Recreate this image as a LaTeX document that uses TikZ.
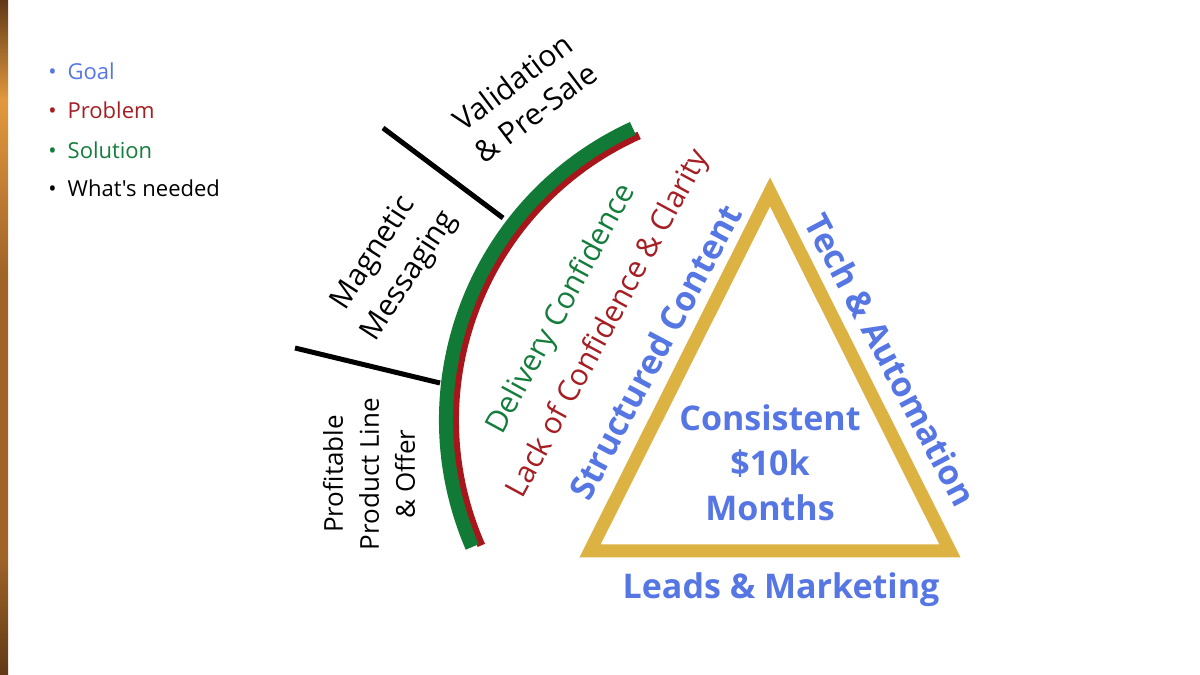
\documentclass[tikz,border=0pt]{standalone}
\usepackage{fontspec}
\setmainfont[Ligatures=TeXOff]{Open Sans}
\usepackage{tikz}
\usetikzlibrary{positioning}
\definecolor{colorgoal}      {RGB}{86 ,118,228}
\definecolor{colorproblem}   {RGB}{165,30 ,35 }
\definecolor{colorsolution}  {RGB}{20 ,125,60 }
\definecolor{colorneed}      {RGB}{0  ,0  ,0  }
\definecolor{colorarcgreen}  {RGB}{16 ,122,54 }
\definecolor{colorarcred}    {RGB}{168,22 ,28 }
\definecolor{colorgold}      {RGB}{196,152,42 }
\definecolor{colorgoldlight} {RGB}{220,178,66 }
\definecolor{colorstripdark} {RGB}{96 ,58 ,22 }
\definecolor{colorstripmid}  {RGB}{160,100,40 }
\definecolor{colorstriplight}{RGB}{226,152,62 }

\begin{document}
\begin{tikzpicture}[
    x=0.5pt, y=0.5pt,
    legend/.style={anchor=base west,inner sep=0pt,font={\fontsize{11}{13}\selectfont}},
    need/.style={text=colorneed,align=center,font={\fontsize{15}{19}\selectfont}},
    tag/.style={font={\fontsize{15}{18}\selectfont}},
    goal/.style={text=colorgoal,align=center,font={\fontsize{17}{22.5}\selectfont\bfseries}},
    tick/.style={line width=2.5pt},
]

    \useasboundingbox (0,0) rectangle (1200,675);
    \fill[white] (0,0) rectangle (1200,675);

    \shade[top color=colorstripdark,bottom color=colorstriplight] (0,675) rectangle (8,575);
    \shade[top color=colorstriplight,bottom color=colorstripmid] (0,575) rectangle (8,400);
    \shade[top color=colorstripmid,middle color=colorstriplight,bottom color=colorstripmid] (0,400) rectangle (8,120);
    \shade[top color=colorstripmid,bottom color=colorstripdark] (0,120) rectangle (8,0);

    \node[legend,text=colorgoal]     (lgoal)    at (48,595) {\textbullet\hspace{5.5pt}Goal};
    \node[legend,text=colorproblem]  (lproblem) at (48,556) {\textbullet\hspace{5.5pt}Problem};
    \node[legend,text=colorsolution] (lsolve)   at (48,516) {\textbullet\hspace{5.5pt}Solution};
    \node[legend,text=colorneed]     (lneed)    at (48,478) {\textbullet\hspace{5.5pt}What's needed};

    \coordinate (hub) at (767,255);
    \draw[colorarcred,line width=4pt] (hub) ++(114.2:312) arc[start angle=114.2,end angle=203.7,radius=312];
    \draw[colorarcgreen,line width=7pt] (hub) ++(114.7:321) arc[start angle=114.7,end angle=203.3,radius=321];

    \coordinate (vtop) at (383,547);
    \coordinate (vend) at (503,457);
    \coordinate (mtop) at (295,327);
    \coordinate (mend) at (440,292);
    \draw[tick] (vtop) -- (vend);
    \draw[tick] (mtop) -- (mend);

    \node[need,rotate=37] (valid) at (524,578) {Validation\\\& Pre-Sale};
    \node[need,rotate=57,font={\fontsize{15}{21}\selectfont}] (magnet) at (392,410) {Magnetic\\Messaging};
    \node[need,rotate=90,font={\fontsize{13}{18}\selectfont}] (product) at (369,201) {Profitable\\Product Line\\\& Offer};

    \node[tag,text=colorsolution,rotate=61.5] (deliver) at (562,366) {Delivery Confidence};
    \node[tag,text=colorproblem,rotate=61.5] (lack) at (609,351) {Lack of Confidence \& Clarity};

    \coordinate (apex)  at (770,497.5);
    \coordinate (left)  at (579.4,117.5);
    \coordinate (right) at (960.6,117.5);
    \coordinate (iapex)  at (770,468.5);
    \coordinate (ileft)  at (600.6,130.5);
    \coordinate (iright) at (939.4,130.5);
    \shade[left color=colorgoldlight,middle color=colorgold,right color=colorgoldlight,even odd rule]
        (apex) -- (left) -- (right) -- cycle (iapex) -- (ileft) -- (iright) -- cycle;

    \node[goal,rotate=62] (struct) at (655,323) {Structured Content};
    \node[goal,rotate=-62] (tech) at (891,315) {Tech \& Automation};
    \node[goal] (leads) at (781,85) {Leads \& Marketing};
    \node[goal] (money) at (770,212) {Consistent\\\$10k\\Months};

\end{tikzpicture}
\end{document}
